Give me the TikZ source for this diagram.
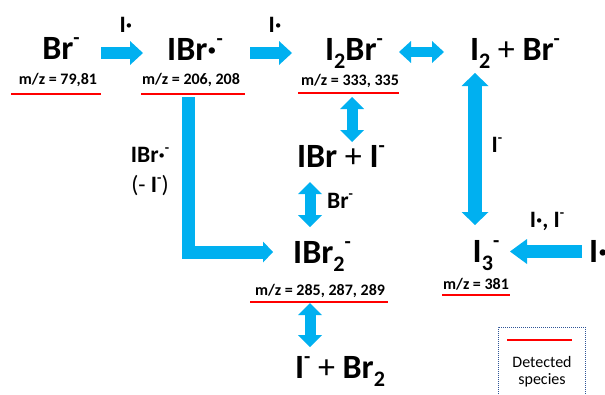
\documentclass[tikz,border=0pt]{standalone}
\usepackage{fontspec}
\setmainfont{Carlito}
\usetikzlibrary{arrows.meta}
\definecolor{abl}{HTML}{00B0F0}
\definecolor{rl}{HTML}{FF0000}
\definecolor{lgb}{HTML}{2F5597}
\newcommand\supm{\raisebox{0.42em}{\scalebox{0.6}{-}}}
\newcommand\subn[1]{\raisebox{-0.26em}{\scalebox{0.65}{#1}}}
\begin{document}
\begin{tikzpicture}[x=1pt,y=-1pt,
  big/.style={font=\fontsize{34}{36}\selectfont\bfseries, inner sep=0pt, anchor=base},
  mz/.style={font=\fontsize{16}{18}\selectfont\bfseries, inner sep=0pt, anchor=base},
  lab/.style={font=\fontsize{23.5}{25}\selectfont\bfseries, inner sep=0pt, anchor=base},
  leg/.style={font=\fontsize{16}{18}\selectfont, inner sep=0pt, anchor=base},
  redline/.style={draw=rl, line width=2pt},
  fat/.style={draw=abl, line width=#1, line join=miter},
]
\useasboundingbox (0,0) rectangle (605,394);
\clip (0,0) rectangle (605,394);

% species
\node[big] (br)    at (61,59)  {Br\supm};
\node[big] (ibr)   at (195,60) {IBr·\supm};
\node[big] (i2br)  at (354,60) {I\subn{2}Br\supm};
\node[big] (i2)    at (515,60) {I\subn{2} {\mdseries +} Br\supm};
\node[big] (ibri)  at (341,167) {IBr {\mdseries +} I\supm};
\node[big] (ibr2)  at (322,263) {IBr\subn{2}\supm};
\node[big] (i3)    at (486,262) {I\subn{3}\supm};
\node[big] (ibrb)  at (340,378) {I\supm{} {\mdseries +} Br\subn{2}};
\node[big, anchor=base west] (irad) at (589,262) {I·};

% m/z labels
\node[mz] (mz1) at (58,84)  {m/z = 79,81};
\node[mz] (mz2) at (191,84) {m/z = 206, 208};
\node[mz] (mz3) at (350,85) {m/z = 333, 335};
\node[mz] (mz4) at (320,295) {m/z = 285, 287, 289};
\node[mz] (mz5) at (476,289) {m/z = 381};

% red underlines
\coordinate (r1a) at (11,94);   \coordinate (r1b) at (101,94);
\coordinate (r2a) at (141,94);  \coordinate (r2b) at (245,94);
\coordinate (r3a) at (298,93);  \coordinate (r3b) at (399,93);
\coordinate (r4a) at (250,302); \coordinate (r4b) at (388,302);
\coordinate (r5a) at (442,295); \coordinate (r5b) at (510,295);
\draw[redline] (r1a) -- (r1b);
\draw[redline] (r2a) -- (r2b);
\draw[redline] (r3a) -- (r3b);
\draw[redline] (r4a) -- (r4b);
\draw[redline] (r5a) -- (r5b);

% small labels
\node[lab] (l1) at (126,32) {I·};
\node[lab] (l2) at (275,32) {I·};
\node[lab] (l3) at (150,162) {IBr·\supm};
\node[lab] (l4) at (150,192) {{\mdseries(- }I\supm{\mdseries)}};
\node[lab, anchor=base west] (l5) at (327,208) {Br\supm};
\node[lab] (l6) at (497,152) {I\supm};
\node[lab] (l7) at (547,227) {I·, I\supm};

% arrows
\coordinate (a1s) at (101,53); \coordinate (a1e) at (143,53);
\coordinate (a2s) at (250,53); \coordinate (a2e) at (292,53);
\coordinate (d1s) at (399,52); \coordinate (d1e) at (444,52);
\coordinate (v1s) at (475,73); \coordinate (v1e) at (475,225);
\coordinate (d2s) at (352,97); \coordinate (d2e) at (352,142);
\coordinate (d3s) at (310,182); \coordinate (d3e) at (310,227);
\coordinate (d4s) at (310,303); \coordinate (d4e) at (310,347);
\coordinate (lfs) at (582,251.5); \coordinate (lfe) at (510,251.5);
\coordinate (Ls) at (188,97); \coordinate (Le) at (273,252);

\draw[fat=12pt, -{Triangle[width=24pt,length=13pt,line width=0pt]}] (a1s) -- (a1e);
\draw[fat=12pt, -{Triangle[width=24pt,length=13pt,line width=0pt]}] (a2s) -- (a2e);
\draw[fat=10pt, {Triangle[width=22pt,length=12pt,line width=0pt]}-{Triangle[width=22pt,length=12pt,line width=0pt]}] (d1s) -- (d1e);
\draw[fat=14pt, {Triangle[width=27pt,length=13pt,line width=0pt]}-{Triangle[width=27pt,length=13pt,line width=0pt]}] (v1s) -- (v1e);
\draw[fat=11pt, {Triangle[width=24pt,length=12pt,line width=0pt]}-{Triangle[width=24pt,length=12pt,line width=0pt]}] (d2s) -- (d2e);
\draw[fat=11pt, {Triangle[width=24pt,length=12pt,line width=0pt]}-{Triangle[width=24pt,length=12pt,line width=0pt]}] (d3s) -- (d3e);
\draw[fat=11pt, {Triangle[width=24pt,length=12pt,line width=0pt]}-{Triangle[width=24pt,length=12pt,line width=0pt]}] (d4s) -- (d4e);
\draw[fat=13pt, -{Triangle[width=25pt,length=17pt,line width=0pt]}] (lfs) -- (lfe);
\draw[fat=13pt, -{Triangle[width=21pt,length=10pt,line width=0pt]}] (Ls) |- (Le);

% legend
\coordinate (g1) at (498,400); \coordinate (g2) at (498,327);
\coordinate (g3) at (585,327); \coordinate (g4) at (585,400);
\draw[lgb, line width=0.8pt, dash pattern=on 1pt off 1pt] (g1) -- (g2) -- (g3) -- (g4);
\coordinate (lr1) at (507,340); \coordinate (lr2) at (572,340);
\draw[redline] (lr1) -- (lr2);
\node[leg] (det) at (542,367) {Detected};
\node[leg] (spe) at (542,384) {species};
\end{tikzpicture}
\end{document}
